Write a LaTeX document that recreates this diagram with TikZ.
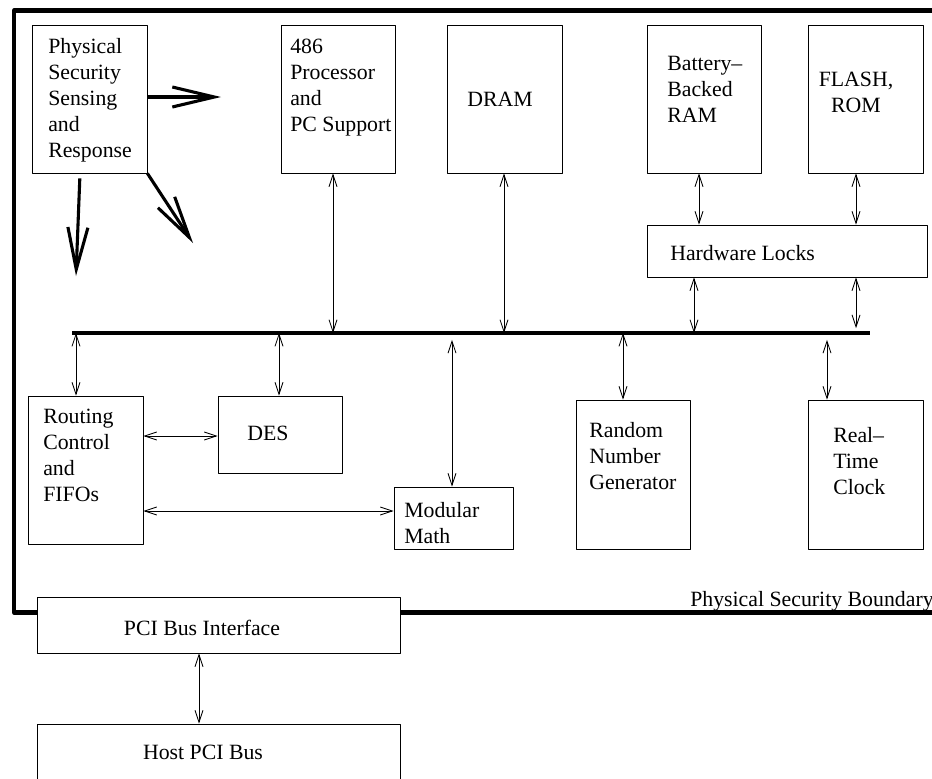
\documentclass[tikz,border=0pt]{standalone}
\usepackage{fontspec}
\setmainfont{Liberation Serif}
\usetikzlibrary{arrows.meta,fit}
\begin{document}
\begin{tikzpicture}[x=0.025cm, y=-0.025cm, font=\fontsize{15.5}{18.5}\selectfont, line join=round,
	blk/.style={draw, line width=0.6pt, fill=white, inner sep=0pt},
	txt/.style={align=left, anchor=west, inner sep=0pt},
	bi/.style={line width=0.6pt, {Straight Barb[length=0.3cm,width=0.2cm]}-{Straight Barb[length=0.3cm,width=0.2cm]}},
	big/.style={line width=2.2pt, -{Straight Barb[length=1.05cm,width=0.5cm]}},
	gap/.style={shorten <=0.17cm}]
	\useasboundingbox (0,0) rectangle (932,778);
	\draw[line width=2.9pt] (14,10.5) rectangle (960,612.5);
	\node[txt] (edge) at (690,601) {Physical Security Boundary};
	% boxes
	\node[blk, fit={(32,25)(147,173)}] (phys) {};
	\node[blk, fit={(281,25)(395,173)}] (cpu) {};
	\node[blk, fit={(447,25)(562,173)}] (dram) {};
	\node[blk, fit={(647,25)(761,173)}] (batt) {};
	\node[blk, fit={(808,25)(923,173)}] (flash) {};
	\node[blk, fit={(647,225)(927,277)}] (hw) {};
	\node[blk, fit={(28,396)(143,544)}] (route) {};
	\node[blk, fit={(218,396)(342,473)}] (des) {};
	\node[blk, fit={(394,487)(513,549)}] (mod) {};
	\node[blk, fit={(576,400)(690,549)}] (rng) {};
	\node[blk, fit={(808,400)(923,549)}] (rtc) {};
	\node[blk, fit={(37,597)(400,653)}] (pci) {};
	\node[blk, fit={(37,724)(400,790)}] (host) {};
	% labels
	\node[txt] (physT) at (48,100) {Physical\\Security\\Sensing\\and\\Response};
	\node[txt] (cpuT) at (290,88) {486\\Processor\\and\\PC Support};
	\node[txt] (dramT) at (467,99) {DRAM};
	\node[txt] (battT) at (667,89) {Battery--\\Backed\\RAM};
	\node[txt, anchor=center, align=center] (flashT) at (856,92) {FLASH,\\ROM};
	\node[txt] (hwT) at (670,253) {Hardware Locks};
	\node[txt] (routeT) at (43,455) {Routing\\Control\\and\\FIFOs};
	\node[txt] (desT) at (247,433) {DES};
	\node[txt] (modT) at (404,523) {Modular\\Math};
	\node[txt] (rngT) at (589,456) {Random\\Number\\Generator};
	\node[txt] (rtcT) at (833,461) {Real--\\Time\\Clock};
	\node[inner sep=0pt] (pciT) at (202,628) {PCI Bus Interface};
	\node[inner sep=0pt] (hostT) at (203,752) {Host PCI Bus};
	% bus
	\coordinate (busL) at (72,333);
	\coordinate (busR) at (870,333);
	\draw[line width=2.8pt] (busL) -- (busR);
	\foreach \xx/\a in {333/cpu, 504/dram, 694/hw} \draw[bi] (\xx,0 |- \a.south) -- (\xx,0 |- busL);
	\draw[bi, shorten >=0.12cm] (856,0 |- hw.south) -- (856,0 |- busL);
	\foreach \xx/\a in {699/batt, 856/flash} \draw[bi] (\xx,0 |- \a.south) -- (\xx,0 |- hw.north);
	\foreach \xx/\a in {76/route, 279/des, 623/rng} \draw[bi] (\xx,0 |- busL) -- (\xx,0 |- \a.north);
	\foreach \xx/\a in {452/mod, 827/rtc} \draw[bi, gap] (\xx,0 |- busL) -- (\xx,0 |- \a.north);
	\draw[bi] (route.east |- 0,436) -- (des.west |- 0,436);
	\draw[bi] (route.east |- 0,511) -- (mod.west |- 0,511);
	\draw[bi] (199,0 |- pci.south) -- (199,0 |- host.north);
	% sensing
	\coordinate (tipR) at (221,97);
	\coordinate (tipD) at (76,276);
	\coordinate (tipS) at (193,243);
	\draw[big] (phys.east |- tipR) -- (tipR);
	\draw[big, shorten <=0.125cm] (80,0 |- phys.south) -- (tipD);
	\draw[big] (phys.south east) -- (tipS);
\end{tikzpicture}
\end{document}
